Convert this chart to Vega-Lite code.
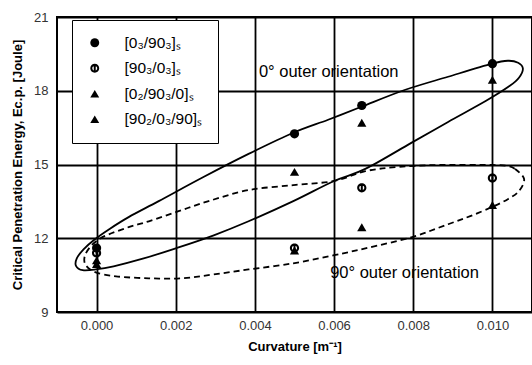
{
  "$schema": "https://vega.github.io/schema/vega-lite/v6.json",
  "width": 475,
  "height": 295,
  "autosize": {"type": "none"},
  "padding": {"left": 57, "top": 17, "right": 0, "bottom": 53},
  "background": "white",
  "config": {
    "font": "Liberation Sans",
    "view": {"stroke": "black", "strokeWidth": 2},
    "axis": {
      "gridColor": "black",
      "gridWidth": 1.8,
      "gridOpacity": 1,
      "ticks": false,
      "domain": false,
      "labelColor": "#333",
      "labelFontSize": 13,
      "titleFontSize": 13,
      "titleFontWeight": "bold",
      "titleColor": "black"
    }
  },
  "datasets": {
    "pts": [
      {"k": 0.0, "e": 11.6, "s": "[0₃/90₃]ₛ"},
      {"k": 0.005, "e": 16.25, "s": "[0₃/90₃]ₛ"},
      {"k": 0.0067, "e": 17.4, "s": "[0₃/90₃]ₛ"},
      {"k": 0.010, "e": 19.1, "s": "[0₃/90₃]ₛ"},
      {"k": 0.0, "e": 11.4, "s": "[90₃/0₃]ₛ"},
      {"k": 0.005, "e": 11.6, "s": "[90₃/0₃]ₛ"},
      {"k": 0.0067, "e": 14.05, "s": "[90₃/0₃]ₛ"},
      {"k": 0.010, "e": 14.45, "s": "[90₃/0₃]ₛ"},
      {"k": 0.0, "e": 11.1, "s": "[0₂/90₃/0]ₛ"},
      {"k": 0.005, "e": 14.7, "s": "[0₂/90₃/0]ₛ"},
      {"k": 0.0067, "e": 16.7, "s": "[0₂/90₃/0]ₛ"},
      {"k": 0.010, "e": 18.45, "s": "[0₂/90₃/0]ₛ"},
      {"k": 0.0, "e": 10.95, "s": "[90₂/0₃/90]ₛ"},
      {"k": 0.005, "e": 11.5, "s": "[90₂/0₃/90]ₛ"},
      {"k": 0.0067, "e": 12.45, "s": "[90₂/0₃/90]ₛ"},
      {"k": 0.010, "e": 13.35, "s": "[90₂/0₃/90]ₛ"}
    ],
    "solid": [
      {"i": 1, "k": 0.01039, "e": 19.22},
      {"i": 2, "k": 0.00999, "e": 19.1},
      {"i": 3, "k": 0.00888, "e": 18.57},
      {"i": 4, "k": 0.0078, "e": 18.04},
      {"i": 5, "k": 0.00669, "e": 17.35},
      {"i": 6, "k": 0.00585, "e": 16.82},
      {"i": 7, "k": 0.00497, "e": 16.29},
      {"i": 8, "k": 0.00384, "e": 15.43},
      {"i": 9, "k": 0.0027, "e": 14.49},
      {"i": 10, "k": 0.00157, "e": 13.51},
      {"i": 11, "k": 0.00081, "e": 12.86},
      {"i": 12, "k": 0.00031, "e": 12.36},
      {"i": 13, "k": -0.00005, "e": 11.95},
      {"i": 14, "k": -0.00033, "e": 11.55},
      {"i": 15, "k": -0.0005, "e": 11.18},
      {"i": 16, "k": -0.00052, "e": 10.88},
      {"i": 17, "k": -0.00035, "e": 10.7},
      {"i": 18, "k": -0.00002, "e": 10.73},
      {"i": 19, "k": 0.00043, "e": 10.86},
      {"i": 20, "k": 0.00119, "e": 11.18},
      {"i": 21, "k": 0.002, "e": 11.59},
      {"i": 22, "k": 0.00296, "e": 12.12},
      {"i": 23, "k": 0.00384, "e": 12.69},
      {"i": 24, "k": 0.00497, "e": 13.51},
      {"i": 25, "k": 0.006, "e": 14.33},
      {"i": 26, "k": 0.00679, "e": 14.82},
      {"i": 27, "k": 0.00795, "e": 15.88},
      {"i": 28, "k": 0.00888, "e": 16.73},
      {"i": 29, "k": 0.00984, "e": 17.59},
      {"i": 30, "k": 0.01044, "e": 18.2},
      {"i": 31, "k": 0.01067, "e": 18.53},
      {"i": 32, "k": 0.01077, "e": 18.9},
      {"i": 33, "k": 0.01065, "e": 19.14}
    ],
    "dashed": [
      {"i": 1, "k": 0.01039, "e": 14.94},
      {"i": 2, "k": 0.01057, "e": 14.82},
      {"i": 3, "k": 0.0108, "e": 14.41},
      {"i": 4, "k": 0.01067, "e": 13.92},
      {"i": 5, "k": 0.01039, "e": 13.59},
      {"i": 6, "k": 0.00999, "e": 13.27},
      {"i": 7, "k": 0.00944, "e": 12.9},
      {"i": 8, "k": 0.00888, "e": 12.57},
      {"i": 9, "k": 0.00795, "e": 12.04},
      {"i": 10, "k": 0.00679, "e": 11.59},
      {"i": 11, "k": 0.006, "e": 11.31},
      {"i": 12, "k": 0.00497, "e": 10.98},
      {"i": 13, "k": 0.00384, "e": 10.73},
      {"i": 14, "k": 0.00296, "e": 10.53},
      {"i": 15, "k": 0.00215, "e": 10.37},
      {"i": 16, "k": 0.00132, "e": 10.37},
      {"i": 17, "k": 0.00049, "e": 10.45},
      {"i": 18, "k": -0.00002, "e": 10.61},
      {"i": 19, "k": -0.00027, "e": 10.9},
      {"i": 20, "k": -0.0003, "e": 11.27},
      {"i": 21, "k": -0.00015, "e": 11.67},
      {"i": 22, "k": 0.00006, "e": 11.96},
      {"i": 23, "k": 0.00031, "e": 12.16},
      {"i": 24, "k": 0.00081, "e": 12.45},
      {"i": 25, "k": 0.00132, "e": 12.69},
      {"i": 26, "k": 0.00207, "e": 13.1},
      {"i": 27, "k": 0.00283, "e": 13.51},
      {"i": 28, "k": 0.00384, "e": 13.96},
      {"i": 29, "k": 0.00497, "e": 14.16},
      {"i": 30, "k": 0.006, "e": 14.33},
      {"i": 31, "k": 0.00679, "e": 14.73},
      {"i": 32, "k": 0.00762, "e": 14.9},
      {"i": 33, "k": 0.00863, "e": 14.98},
      {"i": 34, "k": 0.00999, "e": 14.98}
    ],
    "notes": [
      {"k": 0.0041, "e": 18.78, "t": "0° outer orientation"},
      {"k": 0.0059, "e": 10.6, "t": "90° outer orientation"}
    ]
  },
  "encoding": {
    "x": {
      "field": "k", "type": "quantitative",
      "scale": {"domain": [-0.001, 0.011], "nice": false, "zero": false},
      "axis": {"values": [0, 0.002, 0.004, 0.006, 0.008, 0.01], "format": ".3f", "title": "Curvature [m⁻¹]", "labelPadding": 7, "titlePadding": 8}
    },
    "y": {
      "field": "e", "type": "quantitative",
      "scale": {"domain": [9, 21], "nice": false, "zero": false},
      "axis": {"values": [9, 12, 15, 18, 21], "title": "Critical Penetration Energy, Ec.p. [Joule]", "labelPadding": 9, "titlePadding": 9}
    }
  },
  "layer": [
    {
      "data": {"name": "solid"},
      "mark": {"type": "line", "interpolate": "cardinal-closed", "color": "black", "strokeWidth": 1.8},
      "encoding": {"order": {"field": "i", "type": "quantitative"}}
    },
    {
      "data": {"name": "dashed"},
      "mark": {"type": "line", "interpolate": "cardinal-closed", "color": "black", "strokeWidth": 1.8, "strokeDash": [6, 4]},
      "encoding": {"order": {"field": "i", "type": "quantitative"}}
    },
    {
      "data": {"name": "notes"},
      "mark": {"type": "text", "align": "left", "baseline": "middle", "fontSize": 16.5, "color": "black", "font": "Liberation Sans"},
      "encoding": {"text": {"field": "t"}}
    },
    {
      "data": {"name": "pts"},
      "mark": {"type": "point", "filled": true, "color": "black", "opacity": 1, "size": 85},
      "encoding": {
        "shape": {
          "field": "s", "type": "nominal",
          "scale": {
            "domain": ["[0₃/90₃]ₛ", "[90₃/0₃]ₛ", "[0₂/90₃/0]ₛ", "[90₂/0₃/90]ₛ"],
            "range": ["circle", "M-1,0A1,1 0 1,1 1,0A1,1 0 1,1 -1,0Z M-0.55,0A0.55,0.55 0 1,0 0.55,0A0.55,0.55 0 1,0 -0.55,0Z M-0.22,-0.6L0.22,-0.6L0.22,0.6L-0.22,0.6Z", "triangle-up", "triangle-up"]
          },
          "legend": {
            "title": null, "orient": "none", "legendX": 15, "legendY": 3,
            "fillColor": "white", "strokeColor": "black", "padding": 15,
            "rowPadding": 8.5, "labelFontSize": 15.5, "labelColor": "black", "symbolSize": 80,
            "symbolFillColor": "black", "symbolStrokeWidth": 0, "labelOffset": 22, "symbolOffset": 0, "labelLimit": 200
          }
        }
      }
    }
  ]
}
